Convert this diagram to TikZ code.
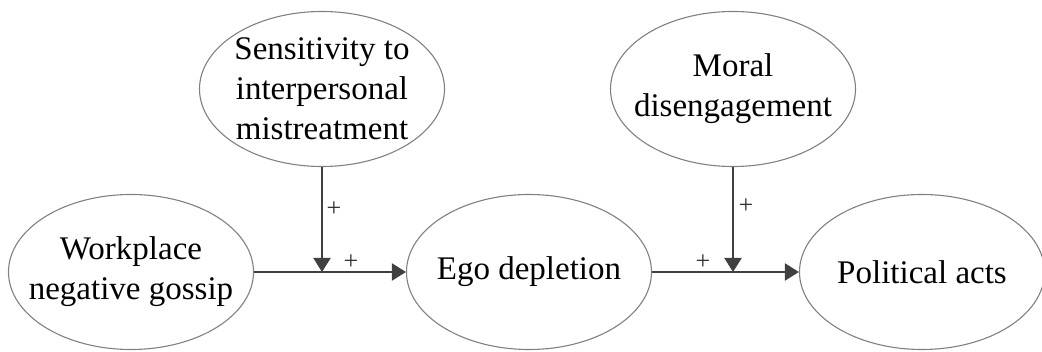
\documentclass[tikz,border=0pt]{standalone}
\usepackage{fontspec}
\setmainfont{Liberation Serif}
\usetikzlibrary{shapes.geometric,arrows.meta}
\begin{document}
\begin{tikzpicture}[x=1pt,y=-1pt,
  var/.style={ellipse, draw=black!50, line width=1.1pt, minimum width=245pt, minimum height=155pt, inner sep=0pt},
  txt/.style={align=center, inner sep=0pt, font=\fontsize{33}{40}\selectfont},
  link/.style={draw=black!75, line width=2pt},
  arr/.style={link, -{Triangle[length=14pt,width=17pt]}},
  sign/.style={font=\fontsize{26}{26}\selectfont, text=black!80, inner sep=0pt}]
\useasboundingbox (0,0) rectangle (1042,352);
\node[var] (s) at (322,89) {};
\node[var] (w) at (131,272) {};
\node[var] (e) at (529,272) {};
\node[var] (m) at (733,89) {};
\node[var] (p) at (922,272) {};
\node[txt] (st) at (s) {Sensitivity to\\interpersonal\\mistreatment};
\node[txt] (wt) at (w) {Workplace\\negative gossip};
\node[txt] (et) at (e) {Ego depletion};
\node[txt] (mt) at (m) {Moral\\disengagement};
\node[txt] (pt) at (p) {Political acts};
\coordinate (j1) at (s.south |- w.east);
\coordinate (j2) at (m.south |- e.east);
\draw[arr] (w.east) -- (e.west);
\draw[arr] (s.south) -- (j1);
\draw[arr] (e.east) -- (p.west);
\draw[arr] (m.south) -- (j2);
\node[sign] (l1) at (334,209) {+};
\node[sign] (l2) at (351,262) {+};
\node[sign] (l3) at (746,206) {+};
\node[sign] (l4) at (703,262) {+};
\end{tikzpicture}
\end{document}
